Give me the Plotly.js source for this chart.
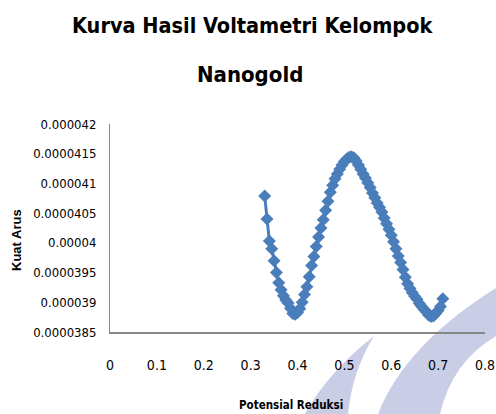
<!DOCTYPE html>
<html>
<head>
<meta charset="utf-8">
<script src="https://cdn.plot.ly/plotly-3.0.1.min.js"></script>
<style>html,body{margin:0;padding:0;background:#fff;}#chart{width:496px;height:414px;}</style>
</head>
<body>
<div id="chart"></div>
<script>
const potensial = [0.330,0.335,0.340,0.345,0.350,0.355,0.360,0.365,0.370,0.375,0.380,0.385,0.390,0.395,0.400,0.405,0.410,0.415,0.420,0.425,0.430,0.435,0.440,0.445,0.450,0.455,0.460,0.465,0.470,0.475,0.480,0.485,0.490,0.495,0.500,0.505,0.510,0.515,0.520,0.525,0.530,0.535,0.540,0.545,0.550,0.555,0.560,0.565,0.570,0.575,0.580,0.585,0.590,0.595,0.600,0.605,0.610,0.615,0.620,0.625,0.630,0.635,0.640,0.645,0.650,0.655,0.660,0.665,0.670,0.675,0.680,0.685,0.690,0.695,0.700,0.705,0.710];
const arusE5 = [4.079,4.040,4.003,3.990,3.970,3.950,3.933,3.921,3.911,3.904,3.899,3.890,3.881,3.880,3.883,3.889,3.900,3.913,3.926,3.943,3.962,3.977,3.994,4.010,4.025,4.039,4.055,4.070,4.085,4.097,4.108,4.116,4.124,4.131,4.137,4.141,4.144,4.145,4.143,4.138,4.131,4.124,4.116,4.109,4.101,4.093,4.084,4.076,4.067,4.060,4.052,4.042,4.032,4.023,4.013,4.002,3.990,3.978,3.967,3.955,3.942,3.931,3.923,3.916,3.910,3.905,3.898,3.893,3.888,3.884,3.878,3.876,3.877,3.881,3.886,3.893,3.906];
const kuatArus = arusE5.map(v => v * 1e-5);
const yTickVals = [0.0000385,0.000039,0.0000395,0.00004,0.0000405,0.000041,0.0000415,0.000042];
const yTickText = ["0.0000385","0.000039","0.0000395","0.00004","0.0000405","0.000041","0.0000415","0.000042"];
const xTickVals = [0,0.1,0.2,0.3,0.4,0.5,0.6,0.7,0.8];
const xTickText = ["0","0.1","0.2","0.3","0.4","0.5","0.6","0.7","0.8"];
const chartTitle1 = "Kurva Hasil Voltametri Kelompok";
const chartTitle2 = "Nanogold";
const xTitle = "Potensial Reduksi";
const yTitle = "Kuat Arus";

// layout geometry (pixels)
const W = 496, H = 414, L = 110, R = 11, T = 124, B = 82;
const pw = W - L - R, ph = H - T - B;
const px = x => (x - L) / pw;
const py = y => (H - B - y) / ph;
const P = pts => pts.map(([c, a, b]) => c + (a !== undefined ? ` ${px(a).toFixed(4)},${py(b).toFixed(4)}` : '')).join(' ');

const condensed = '"DejaVu Sans Condensed", "DejaVu Sans", sans-serif';
const tickFontY = {family: condensed, size: 13, color: '#000'};
const tickFontX = {family: condensed, size: 14, color: '#000'};

Plotly.newPlot('chart', [{
  x: potensial, y: kuatArus, type: 'scatter', mode: 'lines+markers',
  line: {color: '#4a7ebb', width: 3},
  marker: {symbol: 'diamond', size: 10, color: '#4a7ebb'},
  hoverinfo: 'skip'
}], {
  width: W, height: H,
  margin: {l: L, r: R, t: T, b: B},
  paper_bgcolor: '#fff', plot_bgcolor: 'rgba(0,0,0,0)',
  showlegend: false,
  shapes: [
    {type: 'path', xref: 'paper', yref: 'paper', layer: 'below', line: {width: 0}, fillcolor: '#c9cde6',
     path: P([['M', 305, 414], ['Q', 328, 372], ['', 374, 336], ['Q', 352, 372], ['', 348, 414], ['Z']])},
    {type: 'path', xref: 'paper', yref: 'paper', layer: 'below', line: {width: 0}, fillcolor: '#c9cde6',
     path: P([['M', 378, 414], ['Q', 405, 345], ['', 496, 288], ['L', 496, 336], ['Q', 452, 362], ['', 440, 414], ['Z']])}
  ],
  annotations: [
    {text: chartTitle1, xref: 'paper', yref: 'paper', x: px(252), y: py(26), xanchor: 'center', yanchor: 'middle', showarrow: false,
     font: {family: condensed, size: 21.5, color: '#000', weight: 'bold'}},
    {text: chartTitle2, xref: 'paper', yref: 'paper', x: px(250), y: py(74), xanchor: 'center', yanchor: 'middle', showarrow: false,
     font: {family: condensed, size: 22, color: '#000', weight: 'bold'}},
    {text: xTitle, xref: 'paper', yref: 'paper', x: px(291), y: py(405), xanchor: 'center', yanchor: 'middle', showarrow: false,
     font: {family: condensed, size: 11.5, color: '#000', weight: 'bold'}},
    {text: yTitle, xref: 'paper', yref: 'paper', x: px(16), y: py(240), xanchor: 'center', yanchor: 'middle', showarrow: false, textangle: -90,
     font: {family: '"Liberation Sans", Arial, sans-serif', size: 13, color: '#000', weight: 'bold'}}
  ],
  xaxis: {range: [0, 0.8], tickvals: xTickVals, ticktext: xTickText, showgrid: false, zeroline: false,
    showline: true, linecolor: '#868686', linewidth: 2, ticks: '', tickfont: tickFontX, ticklabelstandoff: 19},
  yaxis: {range: [0.0000385, 0.000042], tickvals: yTickVals, ticktext: yTickText, showgrid: false, zeroline: false,
    showline: true, linecolor: '#868686', linewidth: 1, ticks: '', tickfont: tickFontY, ticklabelstandoff: 10}
}, {displayModeBar: false, staticPlot: true});
</script>
</body>
</html>
